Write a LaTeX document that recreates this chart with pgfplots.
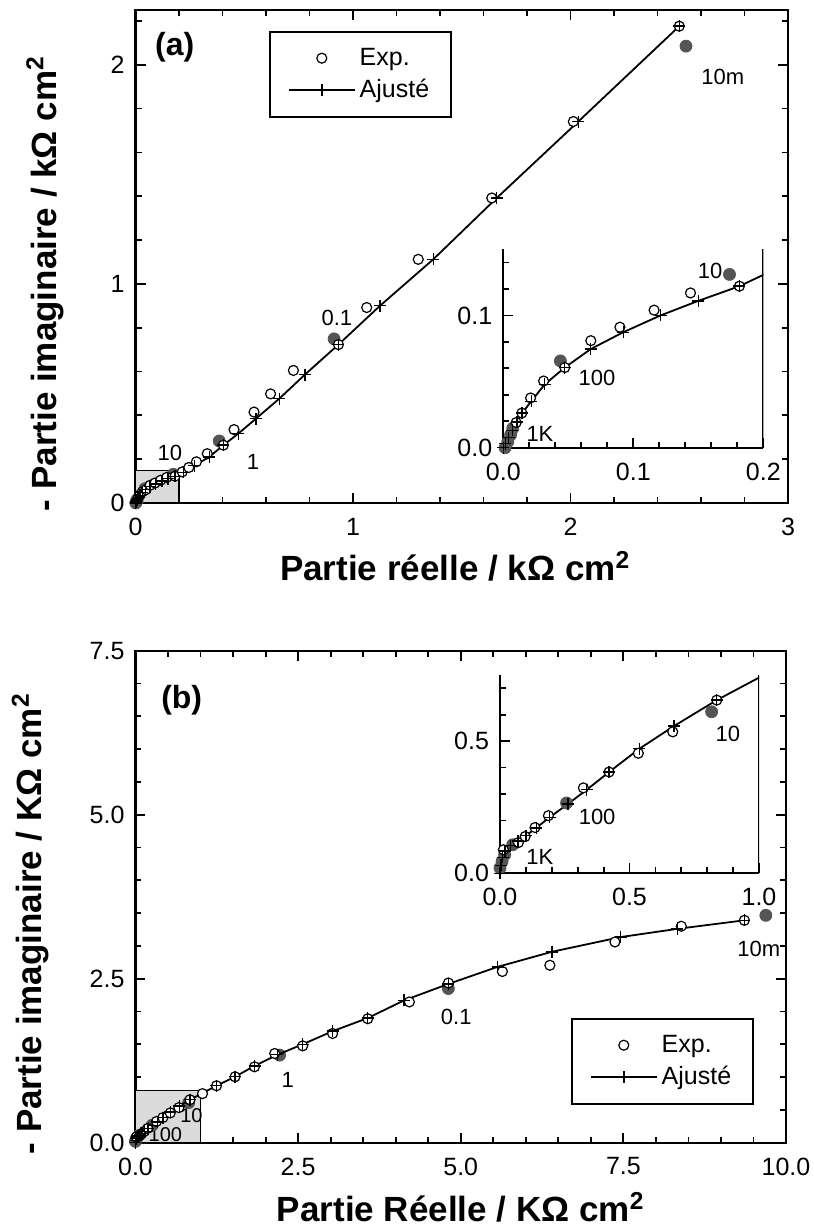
\documentclass[border=0pt]{standalone}
\usepackage{fontspec}
\setmainfont{Liberation Sans}
\usepackage{pgfplots}
\usepackage{pgfplotstable}
\pgfplotsset{compat=1.18}

\definecolor{dotgray}{RGB}{85,85,85}
\definecolor{boxgray}{RGB}{218,218,218}

% panel (a): experimental points
\pgfplotstableread{
x y
0.0099 0.0190
0.0143 0.0262
0.0210 0.0376
0.0310 0.0504
0.0473 0.0606
0.0673 0.0809
0.0897 0.0911
0.1160 0.1040
0.1440 0.1170
0.1816 0.1221
0.2150 0.1420
0.2450 0.1620
0.2800 0.1880
0.3300 0.2250
0.4040 0.2640
0.4530 0.3350
0.5450 0.4150
0.6210 0.4980
0.7260 0.6050
0.9330 0.7230
1.0630 0.8920
1.3000 1.1120
1.6380 1.3920
2.0130 1.7410
2.5000 2.1760
}\expA
% panel (a): fit
\pgfplotstableread{
x y
0.0000 0.0000
0.0015 0.0030
0.0040 0.0075
0.0070 0.0130
0.0105 0.0195
0.0145 0.0262
0.0215 0.0351
0.0318 0.0478
0.0473 0.0606
0.0673 0.0746
0.0923 0.0873
0.1210 0.1000
0.1500 0.1110
0.1816 0.1221
0.2200 0.1400
0.2700 0.1700
0.3390 0.2100
0.4040 0.2640
0.4730 0.3170
0.5540 0.3850
0.6610 0.4760
0.7790 0.5860
0.9330 0.7230
1.1240 0.9000
1.3690 1.1120
1.6610 1.3920
2.0360 1.7410
2.5000 2.1760
}\fitA
% panel (a): decade points (filled)
\pgfplotstableread{
x y
0.0014 0.0000
0.0035 0.0046
0.0056 0.0097
0.0073 0.0147
0.0439 0.0656
0.1740 0.1310
0.3850 0.2830
0.9130 0.7490
2.5310 2.0850
}\decA

% panel (b): experimental points
\pgfplotstableread{
x y
0.013 0.089
0.071 0.116
0.097 0.139
0.135 0.173
0.187 0.218
0.322 0.323
0.421 0.383
0.534 0.454
0.667 0.535
0.837 0.655
1.030 0.748
1.245 0.868
1.530 1.005
1.830 1.157
2.140 1.360
2.570 1.476
3.030 1.665
3.570 1.890
4.210 2.146
4.810 2.435
5.640 2.610
6.370 2.705
7.370 3.060
8.390 3.300
9.360 3.390
}\expB
% panel (b): fit
\pgfplotstableread{
x y
0.000 0.000
0.004 0.030
0.010 0.060
0.020 0.085
0.040 0.105
0.070 0.122
0.100 0.142
0.140 0.172
0.192 0.212
0.262 0.262
0.335 0.316
0.421 0.383
0.538 0.471
0.672 0.557
0.837 0.655
1.245 0.868
1.530 1.005
1.830 1.170
2.180 1.340
2.570 1.500
3.030 1.700
3.570 1.900
4.130 2.170
4.810 2.420
5.565 2.680
6.400 2.910
7.460 3.135
8.330 3.260
9.360 3.390
}\fitB
% panel (b): decade points (filled)
\pgfplotstableread{
x y
0.000 0.020
0.008 0.045
0.018 0.070
0.049 0.108
0.257 0.266
0.817 0.611
2.216 1.335
4.810 2.350
9.690 3.466
}\decB

\tikzset{anno/.style={font=\fontsize{11}{11}\selectfont}}

\pgfplotsset{
  zaxis/.style={
    scale only axis, tick align=inside,
    axis line style={line width=1.2pt},
    every tick/.style={black, line width=0.9pt},
    major tick length=5pt, minor tick length=3pt,
    tick label style={font=\fontsize{12.5}{12.5}\selectfont},
    xticklabel style={yshift=-4pt},
    yticklabel style={xshift=-2pt},
    /pgf/number format/assume math mode=true,
    label style={font=\fontsize{17.5}{17.5}\selectfont\bfseries},
    legend style={draw=black, line width=0.9pt, font=\fontsize{12.5}{12.5}\selectfont,
      inner xsep=9pt, inner ysep=6pt, row sep=1.5pt},
    legend cell align=left, reverse legend,
    legend image code/.code={\draw[mark repeat=2,mark phase=2,##1] plot coordinates {(0cm,0cm) (0.58cm,0cm) (1.16cm,0cm)};},
  },
  inset/.style={zaxis, axis x line*=bottom, axis y line*=left,
    axis line style={line width=1pt}},
  expst/.style={only marks, mark=*, mark size=2.5pt,
    mark options={fill=white, draw=black, line width=0.6pt}},
  fitst/.style={black, line width=0.9pt, mark=+, mark size=3pt,
    mark options={line width=0.7pt}},
  plusst/.style={only marks, mark=+, mark size=3pt, mark options={line width=0.7pt}, black},
  decst/.style={only marks, mark=*, mark size=3pt,
    mark options={fill=dotgray, draw=dotgray}},
}

\begin{document}
\begin{tikzpicture}
\useasboundingbox (0,0) rectangle (406.5pt,615pt);

% ---------------- panel (a) ----------------
\begin{axis}[zaxis,
  at={(67.75pt,363.5pt)}, anchor=south west,
  width=326.25pt, height=246.5pt,
  xmin=0, xmax=3, ymin=0, ymax=2.25,
  xtick={0,1,2,3}, ytick={0,1,2},
  minor xtick={0.2,0.4,...,2.8},
  minor ytick={0.2,0.4,0.6,0.8,1.2,1.4,1.6,1.8,2.2},
  clip mode=individual,
  xlabel={Partie réelle / kΩ cm\textsuperscript{2}},
  ylabel={- Partie imaginaire / kΩ cm\textsuperscript{2}},
  xlabel style={at={(axis description cs:0.49,-0.1582)}, anchor=base},
  ylabel style={at={(axis description cs:-0.1218,0.445)}, anchor=base},
  legend style={at={(0.2046,0.957)}, anchor=north west},
]
\fill[boxgray, draw=black, line width=0.6pt] (axis cs:0,0) rectangle (axis cs:0.2,0.15);
\addplot[decst, forget plot] table {\decA};
\addplot[fitst] table {\fitA};
\addlegendentry{Ajusté}
\addplot[expst] table {\expA};
\addlegendentry{Exp.}
\addplot[plusst, forget plot] table {\fitA};
\node[font=\fontsize{16}{16}\selectfont\bfseries] at (axis cs:0.18,2.08) {(a)};
\node[anno] at (axis cs:2.70,1.945) {10m};
\node[anno] at (axis cs:0.926,0.845) {0.1};
\node[anno] at (axis cs:0.54,0.186) {1};
\node[anno] at (axis cs:0.158,0.227) {10};
\end{axis}

% inset (a)
\begin{axis}[inset,
  at={(251.65pt,391.15pt)}, anchor=south west,
  width=130pt, height=99.2pt,
  xmin=0, xmax=0.2, ymin=0, ymax=0.15,
  xtick={0,0.1,0.2}, ytick={0,0.1},
  minor xtick={0.02,0.04,0.06,0.08,0.12,0.14,0.16,0.18},
  minor ytick={0.02,0.04,0.06,0.08,0.12,0.14},
  xticklabel style={/pgf/number format/.cd, fixed, fixed zerofill, precision=1},
  yticklabel style={/pgf/number format/.cd, fixed, fixed zerofill, precision=1},
]
\addplot[decst] table {\decA};
\addplot[fitst] table {\fitA};
\addplot[expst] table {\expA};
\addplot[plusst] table {\fitA};
\draw[line width=1pt] (rel axis cs:1,0) -- (rel axis cs:1,1);
\node[anno] at (axis cs:0.159,0.1336) {10};
\node[anno] at (axis cs:0.072,0.0527) {100};
\node[anno] at (axis cs:0.0282,0.0107) {1K};
\end{axis}

% ---------------- panel (b) ----------------
\begin{axis}[zaxis,
  at={(67.75pt,43.65pt)}, anchor=south west,
  width=325.25pt, height=246pt,
  xmin=0, xmax=10, ymin=0, ymax=7.5,
  xtick={0,2.5,5,7.5,10}, ytick={0,2.5,5,7.5},
  minor xtick={0.5,1,...,9.5},
  minor ytick={0.5,1,...,7},
  xticklabel style={/pgf/number format/.cd, fixed, fixed zerofill, precision=1},
  yticklabel style={/pgf/number format/.cd, fixed, fixed zerofill, precision=1},
  clip mode=individual,
  xlabel={Partie Réelle / KΩ cm\textsuperscript{2}},
  ylabel={- Partie imaginaire / KΩ cm\textsuperscript{2}},
  xlabel style={at={(axis description cs:0.5,-0.1606)}, anchor=base},
  ylabel style={at={(axis description cs:-0.1445,0.445)}, anchor=base},
  legend style={at={(0.6695,0.253)}, anchor=north west},
]
\fill[boxgray, draw=black, line width=0.6pt] (axis cs:0,0) rectangle (axis cs:1,0.8);
\node[font=\fontsize{10}{10}\selectfont] at (axis cs:0.86,0.42) {10};
\node[font=\fontsize{10}{10}\selectfont] at (axis cs:0.46,0.13) {100};
\addplot[decst, forget plot] table {\decB};
\addplot[fitst] table {\fitB};
\addlegendentry{Ajusté}
\addplot[expst] table {\expB};
\addlegendentry{Exp.}
\addplot[plusst, forget plot] table {\fitB};
\node[font=\fontsize{16}{16}\selectfont\bfseries] at (axis cs:0.71,6.74) {(b)};
\node[anno] at (axis cs:9.58,2.96) {10m};
\node[anno] at (axis cs:4.93,1.91) {0.1};
\node[anno] at (axis cs:2.34,0.955) {1};
\end{axis}

% inset (b)
\begin{axis}[inset,
  at={(250pt,178.35pt)}, anchor=south west,
  width=129.5pt, height=99.15pt,
  xmin=0, xmax=1, ymin=0, ymax=0.75,
  xtick={0,0.5,1}, ytick={0,0.5},
  minor xtick={0.1,0.2,0.3,0.4,0.6,0.7,0.8,0.9},
  minor ytick={0.1,0.2,0.3,0.4,0.6,0.7},
  xticklabel style={/pgf/number format/.cd, fixed, fixed zerofill, precision=1},
  yticklabel style={/pgf/number format/.cd, fixed, fixed zerofill, precision=1},
]
\addplot[decst] table {\decB};
\addplot[fitst] table {\fitB};
\addplot[expst] table {\expB};
\addplot[plusst] table {\fitB};
\draw[line width=1pt] (rel axis cs:1,0) -- (rel axis cs:1,1);
\node[anno] at (axis cs:0.88,0.526) {10};
\node[anno] at (axis cs:0.375,0.214) {100};
\node[anno] at (axis cs:0.154,0.063) {1K};
\end{axis}
\end{tikzpicture}
\end{document}
